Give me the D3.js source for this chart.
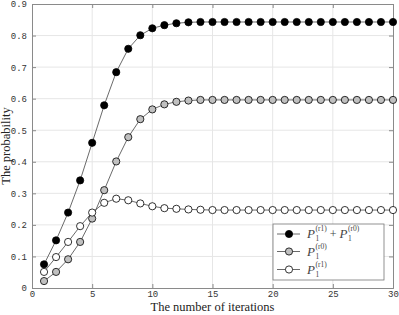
<!DOCTYPE html>
<html><head><meta charset="utf-8">
<script src="https://cdn.jsdelivr.net/npm/d3@7/dist/d3.min.js"></script>
<style>body{margin:0;background:#fff}</style>
</head><body>
<svg id="c" width="399" height="315"></svg>
<script>
const iterations = d3.range(1, 31);
const sumValues = [0.075,0.151,0.239,0.341,0.460,0.579,0.684,0.758,0.801,0.823,0.833,0.839,0.842,0.843,0.843,0.843,0.843,0.843,0.843,0.843,0.843,0.843,0.843,0.843,0.843,0.843,0.843,0.843,0.843,0.843];
const r0Values = [0.022,0.051,0.091,0.146,0.220,0.310,0.401,0.478,0.535,0.566,0.582,0.590,0.594,0.596,0.596,0.596,0.596,0.596,0.596,0.596,0.596,0.596,0.596,0.596,0.596,0.596,0.596,0.596,0.596,0.596];
const r1Values = [0.051,0.098,0.146,0.196,0.239,0.270,0.283,0.278,0.268,0.259,0.253,0.251,0.249,0.248,0.247,0.247,0.247,0.247,0.247,0.247,0.247,0.247,0.247,0.247,0.247,0.247,0.247,0.247,0.247,0.247];
const xTicks = [0,5,10,15,20,25,30];
const yTicks = [0,0.1,0.2,0.3,0.4,0.5,0.6,0.7,0.8,0.9];
const seriesNames = [["(r1)","(r0)"],["(r0)"],["(r1)"]];

const svg = d3.select("#c");
const L = 32, R = 393, T = 4, B = 288;
const x = d3.scaleLinear().domain([0,30]).range([L,R]);
const y = d3.scaleLinear().domain([0,0.9]).range([B,T]);

// grid
svg.append("g").selectAll("line").data(xTicks.slice(1,-1)).join("line")
  .attr("x1",d=>x(d)).attr("x2",d=>x(d)).attr("y1",T).attr("y2",B)
  .attr("stroke","#e6e6e6").attr("stroke-width",1);
svg.append("g").selectAll("line").data(yTicks.slice(1,-1)).join("line")
  .attr("y1",d=>y(d)).attr("y2",d=>y(d)).attr("x1",L).attr("x2",R)
  .attr("stroke","#e6e6e6").attr("stroke-width",1);

const tickFont = "'Liberation Mono', 'DejaVu Sans Mono', monospace";
// axes
const xa = svg.append("g").attr("transform",`translate(0,${B})`)
  .call(d3.axisBottom(x).tickValues(xTicks).tickSize(-4).tickPadding(3).tickFormat(d3.format("d")));
const ya = svg.append("g").attr("transform",`translate(${L},0)`)
  .call(d3.axisLeft(y).tickValues(yTicks).tickSize(-4).tickPadding(5).tickFormat(d=>d===0?"0":d3.format(".1f")(d)));
const xt = svg.append("g").attr("transform",`translate(0,${T})`)
  .call(d3.axisTop(x).tickValues(xTicks).tickSize(-4).tickFormat(""));
const yr = svg.append("g").attr("transform",`translate(${R},0)`)
  .call(d3.axisRight(y).tickValues(yTicks).tickSize(-4).tickFormat(""));
[xa,ya,xt,yr].forEach(g=>{
  g.selectAll("path,line").attr("stroke","#8a8a8a");
  g.selectAll("text").attr("font-family",tickFont).attr("font-size",9).attr("fill","#333");
});

// series
const series = [
  {vals: sumValues, fill: "#000"},
  {vals: r0Values, fill: "#c0c0c0"},
  {vals: r1Values, fill: "#fff"}
];
const line = d3.line().x((d,i)=>x(iterations[i])).y(d=>y(d));
series.forEach(s=>{
  svg.append("path").datum(s.vals).attr("d",line).attr("fill","none").attr("stroke","#444").attr("stroke-width",0.8);
});
series.forEach(s=>{
  svg.append("g").selectAll("circle").data(s.vals).join("circle")
    .attr("cx",(d,i)=>x(iterations[i])).attr("cy",d=>y(d)).attr("r",3.6)
    .attr("fill",s.fill).attr("stroke","#000").attr("stroke-width",0.8);
});

// labels
const serif = "'Liberation Serif', 'DejaVu Serif', serif";
svg.append("text").attr("x",(L+R)/2).attr("y",311).attr("text-anchor","middle")
  .attr("font-family",serif).attr("font-size",12.5).attr("fill","#222").text("The number of iterations");
svg.append("text").attr("transform",`translate(10,${(T+B)/2}) rotate(-90)`).attr("text-anchor","middle")
  .attr("font-family",serif).attr("font-size",12.5).attr("fill","#222").text("The probability");

// legend
const lg = svg.append("g");
lg.append("rect").attr("x",273).attr("y",224).attr("width",111).attr("height",56)
  .attr("fill","#fff").attr("stroke","#777").attr("stroke-width",0.8);
const ly = [234, 251.5, 269.5];
function piece(xp, yp, txt, size, italic){
  const t = lg.append("text").attr("x",xp).attr("y",yp).attr("font-family",serif)
    .attr("font-size",size).attr("fill","#444").text(txt);
  if(italic) t.attr("font-style","italic");
  return t.node().getComputedTextLength();
}
series.forEach((s,i)=>{
  lg.append("line").attr("x1",277).attr("x2",300).attr("y1",ly[i]).attr("y2",ly[i]).attr("stroke","#444").attr("stroke-width",0.8);
  lg.append("circle").attr("cx",289).attr("cy",ly[i]).attr("r",3.6).attr("fill",s.fill).attr("stroke","#000").attr("stroke-width",0.8);
  let cx = 307;
  seriesNames[i].forEach((sup,j)=>{
    if(j>0){ cx += 3; cx += piece(cx, ly[i]+4, "+", 12, false); cx += 3; }
    cx += piece(cx, ly[i]+4, "P", 13, true) + 0.5;
    const w1 = piece(cx, ly[i]+7, "1", 7.5, false);
    const w2 = piece(cx, ly[i]-3, sup, 7.5, false);
    cx += Math.max(w1,w2);
  });
});
</script>
</body></html>
